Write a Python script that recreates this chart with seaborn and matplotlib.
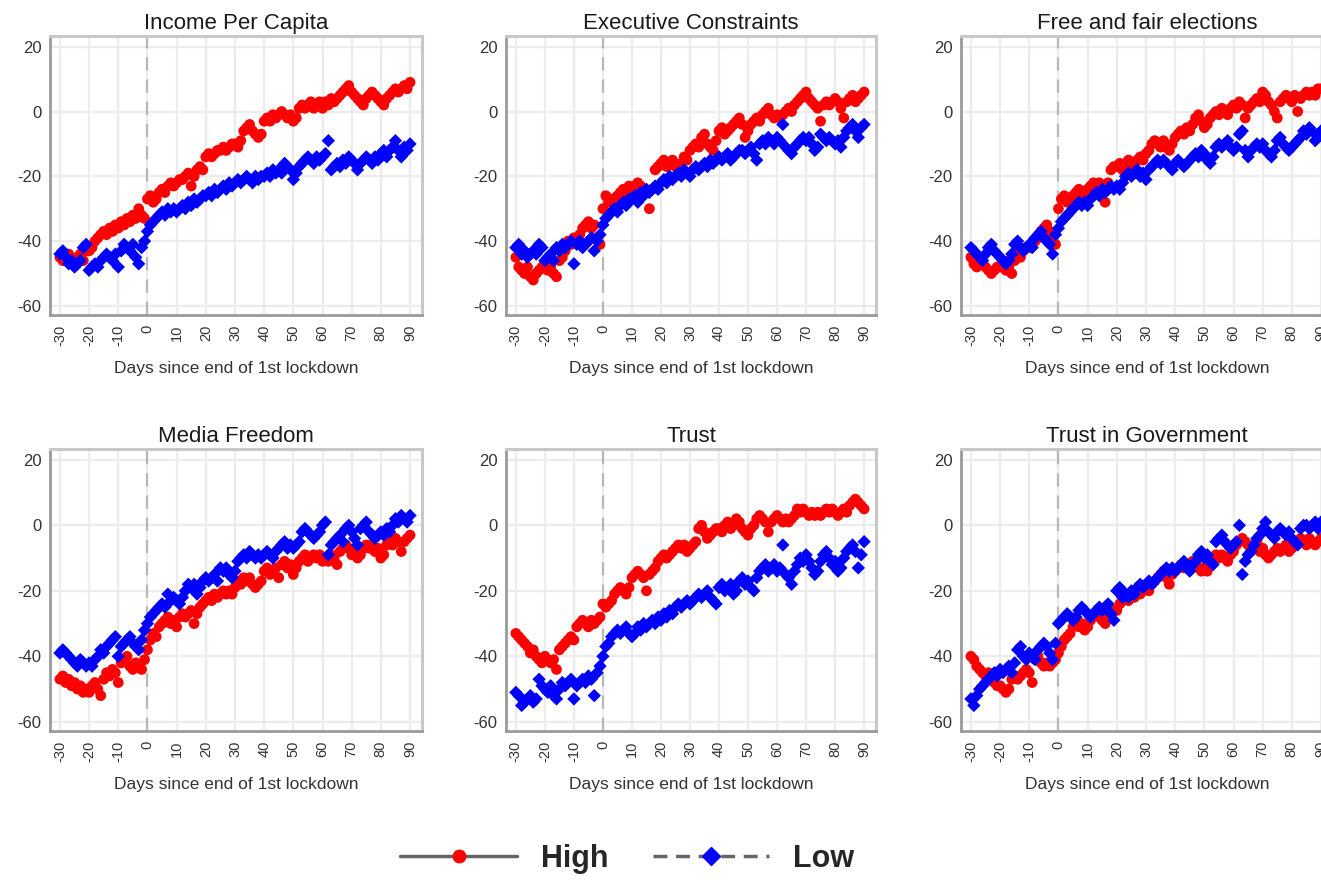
import numpy as np
import pandas as pd
import seaborn as sns
import matplotlib.pyplot as plt
from matplotlib.lines import Line2D

# days since end of first lockdown
days = list(range(-30, 91))

titles = ["Income Per Capita", "Executive Constraints", "Free and fair elections",
          "Media Freedom", "Trust", "Trust in Government"]

income_high = [-45,-46,-45,-44,-46,-47,-45,-44,-46,-43, -43,-42,-40,-39,-38,-37,-38,-36,-37,-35,
               -36,-34,-35,-33,-34,-32,-33,-30,-32,-33, -27,-26,-28,-27,-25,-24,-25,-23,-22,-23,
               -22,-21,-21,-20,-19,-23,-20,-18,-17,-18, -14,-13,-14,-13,-12,-12,-11,-12,-11,-10,
               -10,-11,-9,-6,-5,-4,-6,-7,-8,-7, -3,-2,-3,-1,-2,-1,0,-1,-2,-1,
               -3,-2,1,2,1,2,3,1,2,3, 1,3,2,4,3,4,5,6,7,8,
               6,5,4,3,2,4,5,6,5,4, 3,2,4,5,6,7,6,7,8,7, 9]
income_low = [-44,-43,-45,-47,-46,-48,-47,-46,-42,-41, -49,-48,-47,-48,-46,-45,-44,-45,-46,-44,
              -48,-43,-41,-42,-43,-41,-45,-47,-42,-40, -37,-35,-34,-33,-32,-31,-32,-30,-31,-30,
              -31,-30,-29,-30,-28,-29,-27,-28,-27,-26, -26,-25,-26,-24,-25,-24,-23,-24,-22,-23,
              -22,-21,-22,-21,-20,-21,-22,-20,-21,-20, -20,-19,-20,-18,-19,-18,-19,-16,-17,-18,
              -21,-19,-17,-16,-15,-14,-15,-16,-14,-15, -14,-13,-9,-18,-17,-16,-17,-15,-16,-14,
              -15,-16,-18,-16,-15,-14,-15,-16,-14,-15, -13,-12,-14,-12,-11,-9,-12,-14,-11,-12, -10]

exec_high = [-45,-48,-49,-50,-48,-51,-52,-50,-49,-48, -47,-49,-48,-50,-51,-46,-45,-43,-40,-41,
             -39,-40,-38,-36,-35,-34,-36,-35,-39,-41, -30,-26,-28,-27,-28,-26,-25,-24,-25,-23,
             -24,-23,-22,-23,-24,-25,-30,-24,-18,-17, -16,-15,-17,-16,-15,-17,-18,-16,-14,-15,
             -12,-11,-10,-11,-8,-7,-10,-11,-12,-9, -6,-5,-7,-6,-5,-4,-3,-2,-4,-8,
             -6,-4,-3,-2,-3,-1,0,1,-1,-2, -1,-2,-1,0,1,0,2,3,4,5,
             6,4,3,2,1,-3,2,3,2,3, 4,3,1,-2,3,4,5,3,4,5, 6]
exec_low = [-42,-41,-44,-43,-45,-44,-43,-44,-41,-42, -46,-45,-44,-46,-42,-43,-41,-42,-41,-40,
            -47,-41,-40,-42,-41,-40,-39,-43,-40,-38, -35,-33,-32,-31,-30,-31,-29,-28,-29,-27,
            -27,-26,-28,-25,-26,-24,-25,-24,-23,-24, -22,-21,-22,-20,-21,-20,-19,-20,-18,-19,
            -20,-18,-17,-18,-17,-16,-17,-15,-16,-15, -14,-15,-14,-13,-15,-14,-13,-12,-12,-13,
            -12,-11,-13,-15,-10,-9,-10,-8,-9,-10, -8,-9,-4,-11,-12,-13,-11,-10,-9,-8,
            -9,-8,-10,-12,-11,-7,-8,-9,-8,-9, -10,-9,-11,-8,-6,-5,-4,-6,-8,-5, -4]

elect_high = [-45,-47,-48,-47,-46,-48,-49,-50,-49,-48, -48,-47,-49,-48,-50,-46,-44,-45,-43,-42,
              -42,-41,-40,-39,-37,-36,-35,-37,-38,-41, -30,-27,-26,-28,-27,-26,-25,-24,-25,-26,
              -24,-23,-22,-23,-22,-24,-28,-22,-18,-17, -17,-16,-18,-16,-15,-17,-16,-15,-14,-15,
              -13,-12,-10,-9,-10,-11,-9,-11,-12,-10, -8,-7,-6,-7,-5,-6,-4,-2,-1,-3,
              -5,-4,-2,-1,0,-1,1,0,-1,1, 2,1,3,2,-2,1,2,3,4,3,
              6,5,3,2,0,-2,3,4,5,4, 3,5,0,4,5,6,5,6,5,7, 7]
elect_low = [-42,-43,-44,-45,-46,-44,-42,-41,-43,-44, -45,-46,-47,-46,-44,-41,-40,-42,-43,-42,
             -41,-42,-39,-38,-37,-39,-40,-41,-44,-38, -36,-34,-33,-32,-31,-30,-29,-28,-29,-28,
             -29,-27,-26,-25,-26,-24,-25,-24,-23,-24, -23,-24,-22,-20,-19,-20,-19,-18,-20,-19,
             -21,-18,-17,-16,-15,-16,-15,-16,-17,-18, -16,-15,-16,-17,-16,-15,-14,-13,-14,-12,
             -13,-15,-16,-14,-11,-10,-11,-10,-9,-11, -12,-11,-7,-6,-12,-14,-12,-11,-10,-11,
             -10,-12,-13,-14,-12,-9,-8,-10,-11,-12, -11,-10,-9,-8,-6,-7,-5,-6,-9,-8, -6]

media_high = [-47,-46,-48,-47,-49,-48,-50,-49,-51,-50, -51,-49,-48,-50,-52,-47,-45,-46,-44,-45,
              -48,-42,-41,-40,-43,-44,-42,-43,-44,-41, -38,-35,-33,-34,-31,-30,-29,-28,-30,-29,
              -31,-28,-27,-28,-27,-26,-30,-27,-25,-24, -23,-22,-23,-21,-22,-21,-20,-21,-20,-21,
              -19,-17,-18,-16,-17,-16,-18,-19,-18,-17, -14,-13,-15,-14,-13,-16,-12,-11,-13,-12,
              -15,-13,-11,-10,-9,-11,-10,-9,-10,-9, -11,-10,-11,-9,-10,-12,-8,-7,-6,-7,
              -9,-8,-10,-9,-7,-6,-7,-6,-8,-7, -10,-9,-6,-5,-6,-4,-5,-8,-5,-4, -3]
media_low = [-39,-38,-39,-40,-41,-42,-43,-41,-42,-43, -42,-43,-41,-40,-38,-39,-37,-36,-35,-34,
             -40,-37,-36,-35,-34,-36,-37,-38,-35,-32, -30,-28,-27,-26,-25,-24,-25,-21,-23,-22,
             -23,-24,-22,-20,-18,-19,-18,-21,-19,-17, -16,-17,-16,-15,-17,-13,-14,-13,-15,-16,
             -14,-11,-10,-9,-10,-8,-9,-10,-9,-10, -9,-8,-9,-10,-8,-7,-6,-5,-7,-6,
             -7,-6,-5,-2,-1,-2,-3,-4,-3,-2, 0,1,-9,-6,-5,-4,-3,-5,-1,0,
             -2,-4,-6,-1,0,1,-2,-3,-4,-3, -2,-3,-1,-2,0,2,1,3,2,1, 3]

trust_high = [-33,-34,-35,-36,-37,-39,-38,-40,-41,-42, -40,-41,-42,-41,-44,-38,-37,-36,-35,-34,
              -35,-31,-30,-29,-30,-31,-29,-30,-29,-28, -24,-25,-24,-23,-21,-20,-19,-20,-21,-19,
              -16,-15,-14,-15,-16,-20,-15,-14,-13,-11, -10,-9,-10,-9,-8,-7,-6,-7,-6,-8,
              -7,-6,-5,-1,0,-2,-4,-3,-2,-1, -1,-2,0,1,-1,0,2,1,-1,-2,
              -3,-1,0,2,3,2,1,-2,1,2, 3,2,1,2,1,2,3,5,4,5,
              4,3,4,3,4,3,4,5,4,5, 4,3,4,5,4,6,7,8,7,6, 5]
trust_low = [-51,-52,-55,-54,-53,-52,-54,-53,-47,-49, -50,-51,-49,-52,-53,-50,-48,-49,-48,-47,
             -53,-49,-48,-47,-48,-46,-47,-52,-45,-43, -40,-37,-36,-34,-33,-32,-33,-32,-31,-33,
             -34,-33,-31,-32,-30,-31,-30,-29,-30,-28, -29,-27,-28,-26,-27,-25,-24,-25,-24,-23,
             -24,-23,-22,-21,-22,-21,-20,-22,-23,-24, -19,-18,-20,-19,-18,-21,-20,-17,-16,-18,
             -17,-19,-20,-16,-14,-13,-12,-14,-13,-12, -14,-13,-6,-15,-16,-18,-14,-12,-10,-11,
             -9,-11,-13,-15,-14,-11,-9,-8,-10,-12, -11,-14,-13,-10,-8,-7,-6,-8,-13,-9, -5]

gov_high = [-40,-41,-43,-44,-45,-46,-45,-47,-48,-49, -49,-50,-51,-50,-47,-46,-47,-46,-45,-44,
            -45,-48,-41,-40,-42,-43,-42,-43,-42,-41, -39,-37,-35,-34,-33,-31,-30,-31,-30,-32,
            -31,-29,-28,-27,-28,-29,-30,-28,-27,-26, -26,-24,-23,-22,-23,-21,-22,-20,-21,-20,
            -19,-20,-18,-17,-16,-15,-14,-16,-18,-15, -14,-13,-12,-13,-12,-13,-11,-12,-13,-14,
            -13,-14,-12,-10,-9,-10,-9,-10,-11,-9, -8,-6,-5,-4,-5,-6,-7,-6,-5,-8,
            -7,-9,-10,-9,-8,-7,-8,-7,-6,-8, -7,-6,-5,-4,-5,-6,-4,-5,-6,-5, -4]
gov_low = [-53,-55,-52,-50,-49,-48,-47,-46,-45,-46, -44,-45,-44,-43,-45,-42,-38,-37,-40,-41,
           -39,-40,-41,-38,-37,-36,-37,-39,-41,-36, -30,-29,-28,-27,-28,-29,-28,-26,-25,-26,
           -27,-28,-27,-26,-25,-26,-25,-24,-27,-29, -20,-19,-22,-21,-22,-20,-21,-19,-18,-19,
           -18,-17,-18,-17,-16,-15,-14,-13,-14,-13, -14,-13,-12,-11,-13,-14,-12,-11,-9,-8,
           -10,-9,-11,-12,-5,-4,-3,-5,-6,-7, -6,-5,0,-15,-11,-9,-8,-6,-4,-3,
           -1,1,-2,-3,-4,-2,-1,-2,-3,-2, -4,-5,-6,-1,0,0,-1,0,1,-1, 1]

high_series = [income_high, exec_high, elect_high, media_high, trust_high, gov_high]
low_series = [income_low, exec_low, elect_low, media_low, trust_low, gov_low]

sns.set_style("white")
plt.rcParams['font.family'] = ['Liberation Sans', 'DejaVu Sans']
plt.rcParams['axes.unicode_minus'] = False

fig = plt.figure(figsize=(13.21, 8.8), dpi=100)

# axes frames in pixels (left, top, width, height); third column runs off the edge
W, H = 1321, 880
lefts = [50, 506, 961]
tops = [36, 449]
widths = [372, 370, 372]
heights = [279, 282]

for k in range(6):
    r, c = divmod(k, 3)
    ax = fig.add_axes([lefts[c] / W, 1 - (tops[r] + heights[r]) / H,
                       widths[c] / W, heights[r] / H])
    df = pd.DataFrame({
        "day": days + days,
        "value": high_series[k] + low_series[k],
        "group": ["High"] * len(days) + ["Low"] * len(days),
    })
    ax.grid(True, color="#ececec", lw=1.6, zorder=0)
    ax.set_axisbelow(True)
    ax.axvline(0, color="#b8b8b8", lw=1.6, ls=(0, (6, 4)), zorder=1)
    sns.scatterplot(data=df, x="day", y="value", hue="group", style="group", size="group",
                    palette={"High": "red", "Low": "blue"},
                    markers={"High": "o", "Low": "D"},
                    sizes={"High": 60, "Low": 46},
                    linewidth=0, alpha=1, legend=False, ax=ax, zorder=3)
    ax.set_xlim(-33.4, 94.1)
    ax.set_ylim(-62.8, 23.3)
    ax.set_xticks(range(-30, 91, 10))
    ax.set_yticks(range(-60, 21, 20))
    ax.tick_params(axis="x", labelrotation=90, labelsize=10.5, length=4, width=1,
                   color="#888888", labelcolor="#333333", pad=3)
    ax.tick_params(axis="y", labelsize=12, length=4, width=1,
                   color="#888888", labelcolor="#333333", pad=2)
    for side in ["left", "bottom"]:
        ax.spines[side].set_color("#9a9a9a")
        ax.spines[side].set_linewidth(2)
    for side in ["top", "right"]:
        ax.spines[side].set_color("#c8c8c8")
        ax.spines[side].set_linewidth(2.2)
    ax.set_title(titles[k], fontsize=16, color="#1a1a1a", pad=5)
    ax.set_xlabel("Days since end of 1st lockdown", fontsize=12.5, color="#333333", labelpad=11)
    ax.set_ylabel("")

handles = [
    Line2D([], [], color="#666666", lw=2.5, marker="o", markersize=9,
           markerfacecolor="red", markeredgecolor="red"),
    Line2D([], [], color="#666666", lw=2.5, ls=(0, (4, 2.5)), marker="D", markersize=9,
           markerfacecolor="blue", markeredgecolor="blue"),
]
fig.legend(handles, ["High", "Low"], loc="center", bbox_to_anchor=(0.475, 0.024),
           ncol=2, frameon=False, handlelength=3.8, columnspacing=1.45, handletextpad=0.8,
           prop={"weight": "bold", "size": 22})

fig.savefig("out.png", dpi=100)
